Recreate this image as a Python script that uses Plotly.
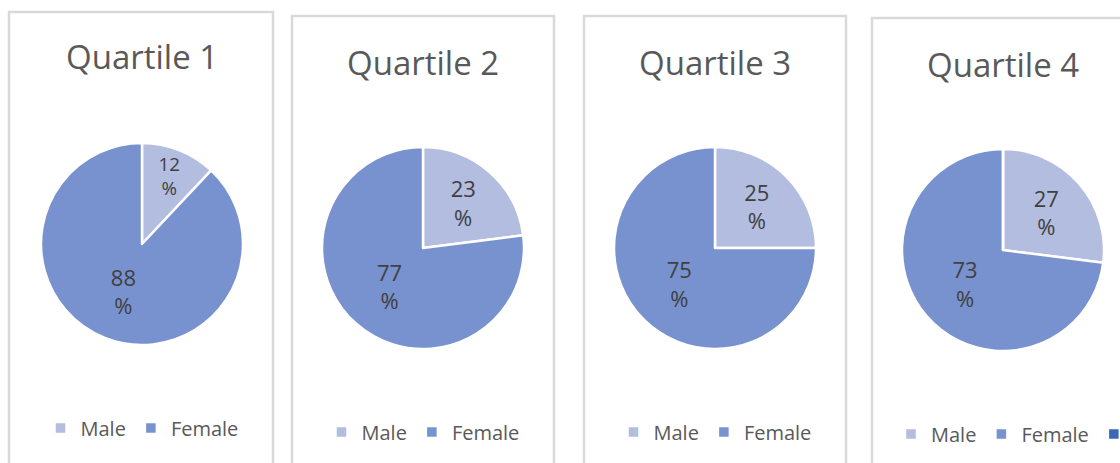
import plotly.graph_objects as go

titles = ["Quartile 1", "Quartile 2", "Quartile 3", "Quartile 4"]
labels = ["Male", "Female"]
male_pct = [12, 23, 25, 27]
female_pct = [88, 77, 75, 73]

W, H = 1120, 463
MALE_C = "#b2bde0"
FEMALE_C = "#7892cf"
EXTRA_C = "#3c66b8"

# panel geometry in screen pixels (r=None: open to the right edge)
panels = [
    dict(l=9, r=273, t=12, cx=142, cy=244, ty=57, ly=428, lx=142, la="center"),
    dict(l=292, r=554, t=16, cx=423, cy=248, ty=62, ly=432, lx=423, la="center"),
    dict(l=584, r=846, t=16, cx=715, cy=248, ty=62, ly=432, lx=715, la="center"),
    dict(l=872, r=None, t=18, cx=1003, cy=250, ty=64, ly=434, lx=891, la="left"),
]
R = 101


def px(x):
    return x / W


def py(y):
    return 1 - y / H


fig = go.Figure()
shapes = []
annotations = []
for i, p in enumerate(panels):
    vals = [male_pct[i], female_pct[i]]
    labs = [lab + "\u200b" * i for lab in labels]
    cols = [MALE_C, FEMALE_C]
    texts = [f"{v}<br>%" for v in vals]
    if i == 3:
        vals.append(0)
        labs.append("\u200b" * 5)
        cols.append(EXTRA_C)
        texts.append("")
    legname = "legend" if i == 0 else f"legend{i+1}"
    fig.add_trace(go.Pie(
        values=vals, labels=labs, text=texts,
        textinfo="text", textposition="inside",
        insidetextorientation="horizontal",
        textfont=dict(size=22, color="#404040", family="Open Sans"),
        marker=dict(colors=cols, line=dict(color="white", width=2.5)),
        sort=False, direction="clockwise", rotation=0,
        domain=dict(x=[px(p["cx"] - R), px(p["cx"] + R)],
                    y=[py(p["cy"] + R), py(p["cy"] - R)]),
        legend=legname, hoverinfo="label+percent",
    ))
    x0, yt = px(p["l"]), py(p["t"])
    if p["r"] is None:
        path = f"M{x0},0 L{x0},{yt} L1,{yt}"
    else:
        x1 = px(p["r"])
        path = f"M{x0},0 L{x0},{yt} L{x1},{yt} L{x1},0"
    shapes.append(dict(type="path", xref="paper", yref="paper", path=path,
                       line=dict(color="#d9d9d9", width=2.5)))
    annotations.append(dict(text=titles[i], xref="paper", yref="paper",
                            x=px(p["cx"]), y=py(p["ty"]), xanchor="center", yanchor="middle",
                            showarrow=False,
                            font=dict(size=33, color="#595959", family="Open Sans")))
    fig.update_layout(**{legname: dict(
        orientation="h", x=px(p["lx"]), y=py(p["ly"]),
        xanchor=p["la"], yanchor="middle", bgcolor="rgba(0,0,0,0)",
        font=dict(size=20, color="#595959", family="Open Sans"),
        itemclick=False, itemdoubleclick=False, itemwidth=30,
    )})

fig.update_layout(width=W, height=H,
                  margin=dict(l=0, r=0, t=0, b=0, autoexpand=False),
                  paper_bgcolor="white", plot_bgcolor="white",
                  shapes=shapes, annotations=annotations, showlegend=True)
fig.write_html("out.html", config={"displayModeBar": False},
               post_script="document.body.style.margin='0';document.body.style.overflow='hidden';")
